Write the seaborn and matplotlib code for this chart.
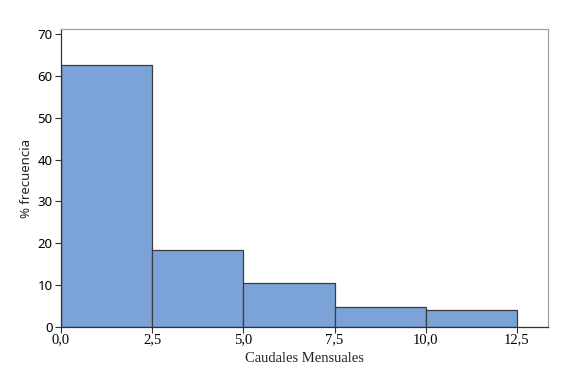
import matplotlib
matplotlib.use('Agg')
import matplotlib.pyplot as plt
import seaborn as sns
from matplotlib.ticker import FuncFormatter

# Histogram bins (caudales mensuales) and % frequency
bin_edges = [0.0, 2.5, 5.0, 7.5, 10.0, 12.5]
bin_centers = [1.25, 3.75, 6.25, 8.75, 11.25]
pct_frecuencia = [62.6, 18.3, 10.4, 4.7, 4.0]
x_ticks = [0.0, 2.5, 5.0, 7.5, 10.0, 12.5]
y_ticks = [0, 10, 20, 30, 40, 50, 60, 70]

sns.set_style('white')
plt.rcParams['font.family'] = ['Liberation Serif', 'DejaVu Serif']

fig = plt.figure(figsize=(5.77, 3.85), dpi=100)
ax = fig.add_axes([0.1057, 0.1506, 0.8440, 0.7741])

sns.histplot(x=bin_centers, weights=pct_frecuencia, bins=bin_edges,
             color='#7BA3D8', edgecolor='#3c3c3c', linewidth=0.9,
             alpha=1.0, ax=ax)

ax.set_xlim(0, 13.35)
ax.set_ylim(0, 71.2)
ax.set_xticks(x_ticks)
ax.set_yticks(y_ticks)
ax.xaxis.set_major_formatter(FuncFormatter(lambda v, p: f'{v:.1f}'.replace('.', ',')))
ax.tick_params(axis='both', direction='out', length=4, width=0.8,
               colors='#333333', labelcolor='black',
               bottom=True, left=True)
ax.tick_params(axis='x', labelsize=10.5, pad=0.5)
ax.tick_params(axis='y', labelsize=9.5, pad=2)
for lbl in ax.get_yticklabels():
    lbl.set_family(['Noto Sans', 'DejaVu Sans'])

ax.set_xlabel('Caudales Mensuales', fontsize=10.5, labelpad=4)
ax.set_ylabel('% frecuencia', fontsize=9.5, labelpad=3,
              family=['Noto Sans', 'DejaVu Sans'])

for side in ['left', 'bottom']:
    ax.spines[side].set_color('#333333')
    ax.spines[side].set_linewidth(0.9)
for side in ['top', 'right']:
    ax.spines[side].set_color('#a0a0a0')
    ax.spines[side].set_linewidth(0.9)

fig.savefig('out.png', dpi=100)
